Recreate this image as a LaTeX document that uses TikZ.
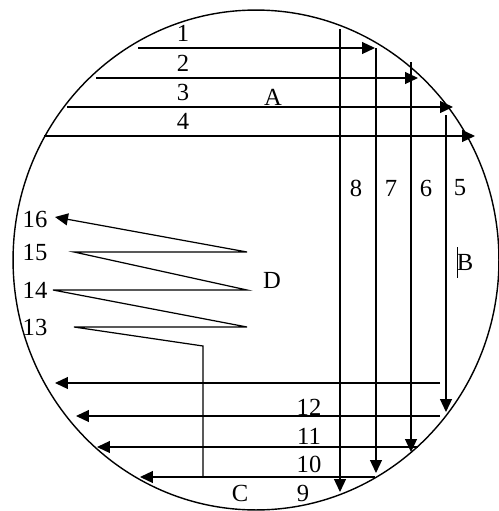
\documentclass[tikz,border=0pt]{standalone}
\usepackage{fontspec}
\setmainfont{Liberation Serif}
\usetikzlibrary{arrows.meta}
\tikzset{lbl/.style={font=\fontsize{14}{16}\selectfont,inner sep=0pt}}
\begin{document}
\begin{tikzpicture}[>={Triangle[length=0.26cm,width=0.24cm]},x=0.02cm,y=-0.02cm,line width=0.7pt]
    \useasboundingbox (0,0) rectangle (499,511);
    \draw[line width=0.8pt] (256,260) ellipse [x radius=4.86cm,y radius=5cm];
    % rows 1-4 and columns 8-5
    \foreach \y/\a/\b in {48/138/375,78/96/418,107/67/453,136/44/475}
        \draw[->] (\a,\y) -- (\b,\y);
    \foreach \x/\a/\b in {340/29/492,376/48/473,411/62/452,446/115/412}
        \draw[->] (\x,\a) -- (\x,\b);
    % rows back to the left
    \foreach \y/\a/\b in {383/440/55,416/440/76,447/418/97,477/375/140}
        \draw[->] (\a,\y) -- (\b,\y);
    \draw[->] (203,477) -- (203,346) -- (74,327) -- (247,327) -- (53,290) -- (247,290) -- (74,252) -- (247,252) -- (55,217);
    \draw[line width=0.4pt] (457,247) -- (457,278);
    \foreach \t/\x/\y in {1/183/33,2/183/63,3/183/92,4/183/121,8/356/188,7/391/188,6/426/188,5/460/188,
                          16/35/219,15/35/252,14/35/290,13/35/327,12/309/407,11/309/436,10/309/464,9/303/493}
        \node[lbl] (n\t) at (\x,\y) {\t};
    \node[lbl] (lA) at (273,97) {A};
    \node[lbl] (lB) at (465,262) {B};
    \node[lbl] (lC) at (240,493) {C};
    \node[lbl] (lD) at (272,280) {D};
\end{tikzpicture}
\end{document}
